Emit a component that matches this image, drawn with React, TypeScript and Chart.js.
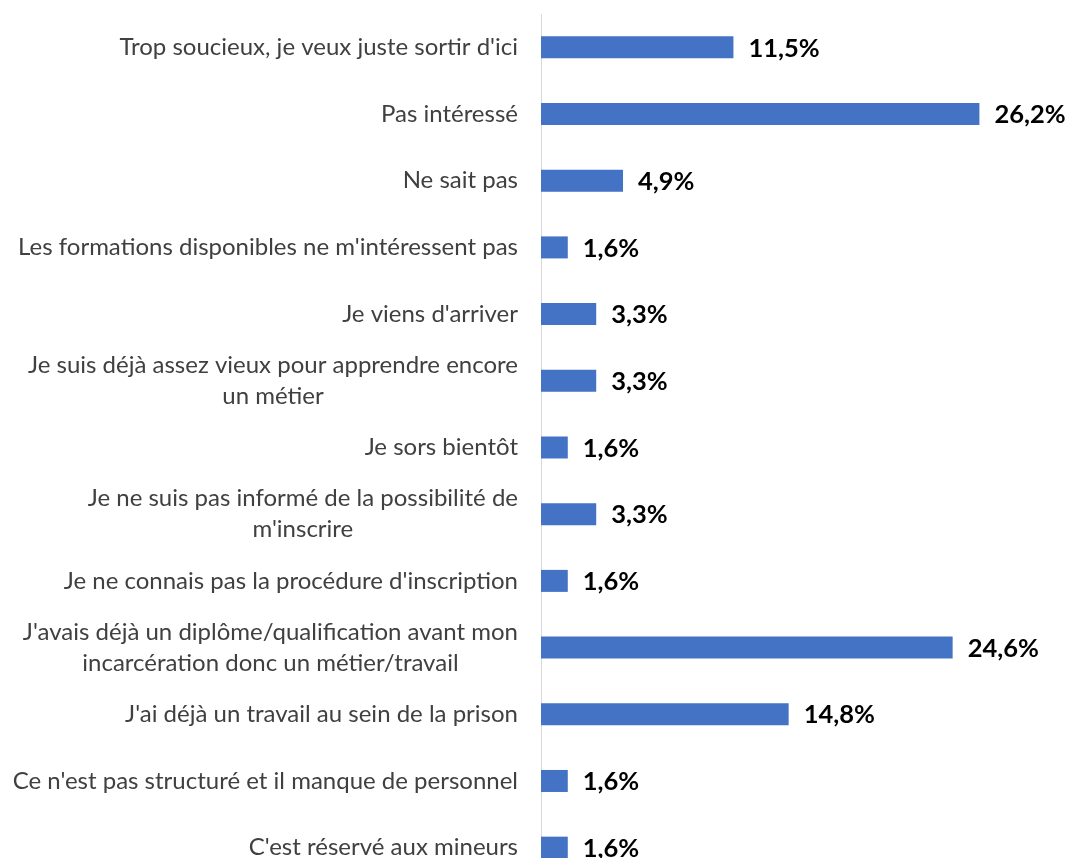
import React, { useEffect, useRef } from "react";
import { Chart, registerables } from "chart.js";

Chart.register(...registerables);

const categories: string[][] = [
  ["Trop soucieux, je veux juste sortir d'ici"],
  ["Pas intéressé"],
  ["Ne sait pas"],
  ["Les formations disponibles ne m'intéressent pas"],
  ["Je viens d'arriver"],
  ["Je suis déjà assez vieux pour apprendre encore", "un métier"],
  ["Je sors bientôt"],
  ["Je ne suis pas informé de la possibilité de", "m'inscrire"],
  ["Je ne connais pas la procédure d'inscription"],
  ["J'avais déjà un diplôme/qualification avant mon", "incarcération donc un métier/travail"],
  ["J'ai déjà un travail au sein de la prison"],
  ["Ce n'est pas structuré et il manque de personnel"],
  ["C'est réservé aux mineurs"],
];

const values: number[] = [11.5, 26.2, 4.9, 1.6, 3.3, 3.3, 1.6, 3.3, 1.6, 24.6, 14.8, 1.6, 1.6];

const LABEL_FONT = '24px "Lato", "Open Sans", sans-serif';
const VALUE_FONT = 'bold 25.5px "Lato", "Open Sans", sans-serif';

const labelsPlugin = {
  id: "customLabels",
  afterDraw(chart: any) {
    const ctx = chart.ctx;
    const yScale = chart.scales.y;
    const meta = chart.getDatasetMeta(0);
    ctx.save();
    // category labels
    ctx.font = LABEL_FONT;
    ctx.fillStyle = "#404040";
    ctx.textBaseline = "middle";
    ctx.textAlign = "center";
    const rightEdge = chart.chartArea.left - 23;
    const lineH = 31;
    categories.forEach((lines, i) => {
      const yc = yScale.getPixelForValue(i);
      const w = Math.max(...lines.map((l) => ctx.measureText(l).width));
      const cx = rightEdge - w / 2;
      const y0 = yc - ((lines.length - 1) * lineH) / 2;
      lines.forEach((l, j) => ctx.fillText(l, cx, y0 + j * lineH));
    });
    // value labels
    ctx.font = VALUE_FONT;
    ctx.fillStyle = "#000000";
    ctx.textAlign = "left";
    meta.data.forEach((bar: any, i: number) => {
      const txt = values[i].toFixed(1).replace(".", ",") + "%";
      ctx.fillText(txt, bar.x + 15, bar.y + 1);
    });
    ctx.restore();
  },
};

export default function App() {
  const ref = useRef<HTMLCanvasElement>(null);
  useEffect(() => {
    if (!ref.current) return;
    const chart = new Chart(ref.current, {
      type: "bar",
      data: {
        labels: categories.map((c) => c.join(" ")),
        datasets: [
          {
            data: values,
            backgroundColor: "#4472C4",
            categoryPercentage: 1,
            barPercentage: 0.33,
          },
        ],
      },
      options: {
        indexAxis: "y",
        animation: false,
        responsive: false,
        devicePixelRatio: 1,
        layout: { padding: { left: 541, right: 27, top: 14, bottom: 9 } },
        plugins: { legend: { display: false }, tooltip: { enabled: false } },
        scales: {
          x: { display: false, min: 0, max: 30 },
          y: {
            afterFit: (s: any) => {
              s.width = 0;
            },
            ticks: { display: false },
            grid: { display: false, drawTicks: false },
            border: { display: true, color: "#d9d9d9", width: 1 },
          },
        },
      },
      plugins: [labelsPlugin],
    });
    return () => chart.destroy();
  }, []);
  return (
    <div style={{ position: "fixed", left: 0, top: 0, width: 1070, height: 858, overflow: "hidden", background: "#fff" }}>
      <canvas ref={ref} width={1070} height={890} style={{ display: "block" }} />
    </div>
  );
}
